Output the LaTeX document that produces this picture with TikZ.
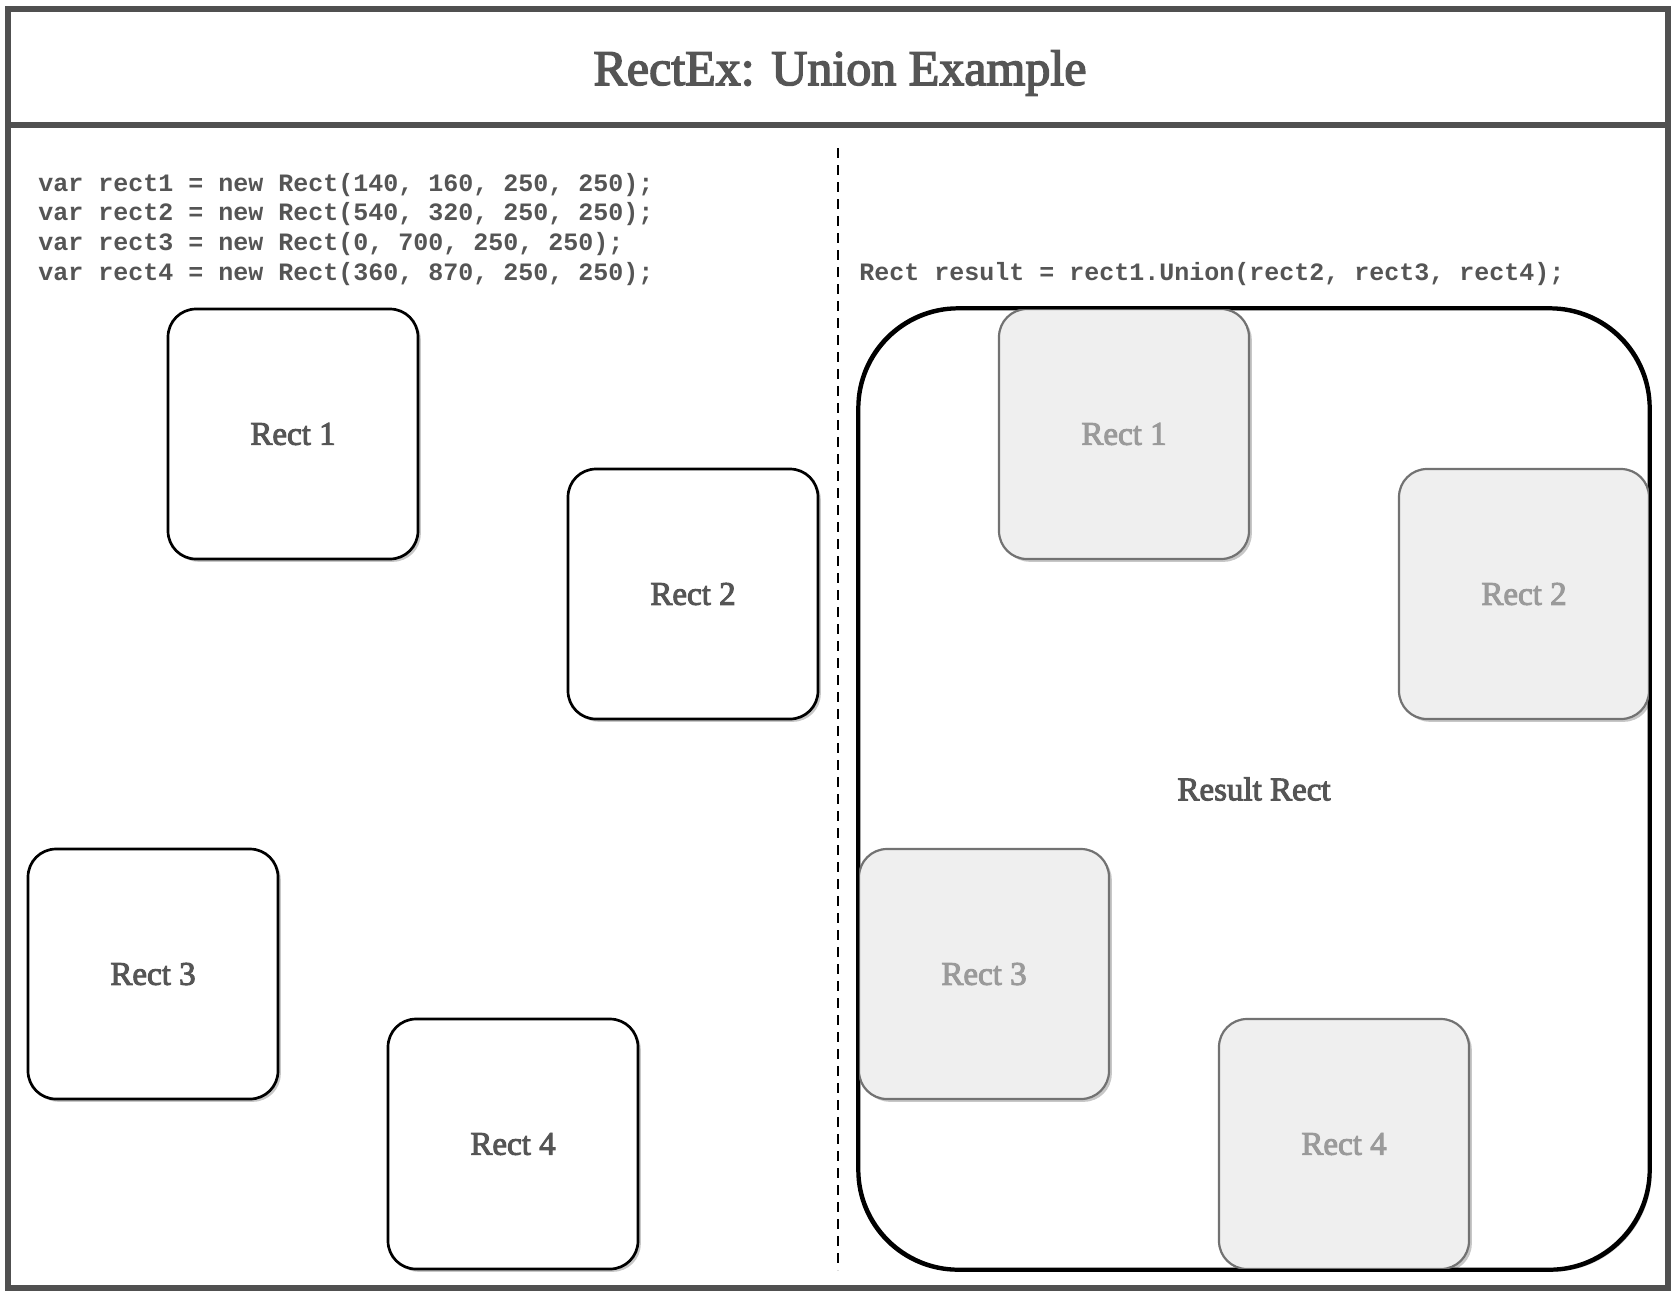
\documentclass[tikz,border=0pt]{standalone}
\usepackage{fontspec}
\setmainfont{Liberation Serif}
\setmonofont{Liberation Mono}
\newfontfamily\serifheavy[FakeBold=3]{Liberation Serif}
\usetikzlibrary{shadows}
\definecolor{framegray}{HTML}{505050}
\definecolor{textgray}{HTML}{555555}
\definecolor{ghostfill}{HTML}{EFEFEF}
\definecolor{ghoststroke}{HTML}{727272}
\definecolor{ghosttext}{HTML}{9A9A9A}
\tikzset{
  framestroke/.style={draw=framegray, line width=3pt},
  codeline/.style={anchor=base west, inner sep=0pt, text=textgray,
    font=\fontsize{12.5pt}{15pt}\ttfamily\bfseries},
  titletext/.style={anchor=base, inner sep=0pt, text=textgray,
    font=\fontsize{25pt}{30pt}\serifheavy},
  softshadow/.style={drop shadow={shadow xshift=1.4pt, shadow yshift=-1.4pt,
    opacity=0.22, fill=black}},
  rectbox/.style={rectangle, rounded corners=14pt, minimum width=125pt,
    minimum height=125pt, inner sep=0pt, line width=1.35pt, draw=black,
    fill=white, softshadow, text=textgray,
    font=\fontsize{16.5pt}{20pt}\serifheavy},
  ghostbox/.style={rectbox, draw=ghoststroke, line width=1.1pt,
    fill=ghostfill, text=ghosttext},
  resultbox/.style={rectangle, rounded corners=50pt, minimum width=395pt,
    minimum height=480pt, inner sep=0pt, line width=1.4pt, draw=black,
    fill=white, softshadow, text=textgray,
    font=\fontsize{16.5pt}{20pt}\serifheavy},
  resultoutline/.style={draw=black, line width=1.4pt, rounded corners=50pt},
  divider/.style={draw=black, line width=1.4pt, dash pattern=on 5pt off 3.5pt},
}
\begin{document}
\begin{tikzpicture}[x=0.5pt, y=-0.5pt]
\useasboundingbox (0,0) rectangle (1677,1297);

% outer frame and header
\coordinate (fnw) at (8,9);
\coordinate (fse) at (1668,1288);
\coordinate (hl) at (8,125);
\coordinate (hr) at (1668,125);
\draw[framestroke] (fnw) rectangle (fse);
\draw[framestroke] (hl) -- (hr);
\node[titletext] (title) at (840,85) {RectEx: Union Example};

% divider
\coordinate (dtop) at (838,148);
\coordinate (dbot) at (838,1270);
\draw[divider] (dtop) -- (dbot);

% code
\node[codeline] (c1) at (38,191) {var rect1 = new Rect(140, 160, 250, 250);};
\node[codeline] (c2) at (38,220.7) {var rect2 = new Rect(540, 320, 250, 250);};
\node[codeline] (c3) at (38,250.3) {var rect3 = new Rect(0, 700, 250, 250);};
\node[codeline] (c4) at (38,280) {var rect4 = new Rect(360, 870, 250, 250);};
\node[codeline] (c5) at (859,280) {Rect result = rect1.Union(rect2, rect3, rect4);};

% left rects
\node[rectbox] (r1) at (293,434) {Rect 1};
\node[rectbox] (r2) at (693,594) {Rect 2};
\node[rectbox] (r3) at (153,974) {Rect 3};
\node[rectbox] (r4) at (513,1144) {Rect 4};

% result rect
\node[resultbox] (res) at (1254,789) {Result Rect};
\node[ghostbox] (g1) at (1124,434) {Rect 1};
\node[ghostbox] (g2) at (1524,594) {Rect 2};
\node[ghostbox] (g3) at (984,974) {Rect 3};
\node[ghostbox] (g4) at (1344,1144) {Rect 4};
\draw[resultoutline] (res.south west) rectangle (res.north east);
\end{tikzpicture}
\end{document}
